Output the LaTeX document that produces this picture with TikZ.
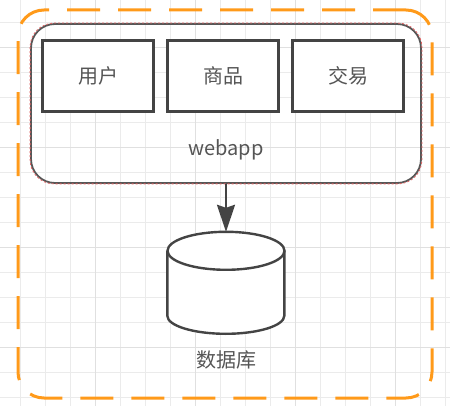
\documentclass[tikz,border=0pt]{standalone}
\usepackage{fontspec}
\setmainfont{Noto Sans CJK SC}
\usetikzlibrary{positioning,arrows.meta}

\definecolor{gridgray}{HTML}{EBEBEB}
\definecolor{gridgray2}{HTML}{E0E0E0}
\definecolor{sysorange}{HTML}{FF9A1A}
\definecolor{boxgray}{HTML}{444444}
\definecolor{txtgray}{HTML}{555555}
\definecolor{appred}{HTML}{E06060}

\begin{document}
\begin{tikzpicture}[x=1pt,y=-1pt,node distance=125pt,on grid,
    module/.style={draw=boxgray,line width=2.4pt,fill=white,minimum width=111pt,minimum height=71pt,
        font=\fontsize{20}{22}\selectfont,text=txtgray},
    container/.style={draw=boxgray!90,line width=1.8pt,rounded corners=24pt,minimum width=390pt,minimum height=159pt},
    outer/.style={draw=sysorange,line width=3pt,dash pattern=on 33pt off 18pt,rounded corners=26pt,
        minimum width=414pt,minimum height=388pt},
    caption/.style={font=\fontsize{20}{22}\selectfont,text=txtgray}]
        \useasboundingbox (0,0) rectangle (450,406);
        % background grid
        \foreach \gx in {20,45,...,445}
            \draw[gridgray,line width=0.8pt] (\gx,0) -- (\gx,406);
        \foreach \gy in {22,47,...,406}
            \draw[gridgray,line width=0.8pt] (0,\gy) -- (450,\gy);
        \foreach \gx in {95,195,295,395}
            \draw[gridgray2,line width=0.8pt] (\gx,0) -- (\gx,406);
        \foreach \gy in {47,147,247,347}
            \draw[gridgray2,line width=0.8pt] (0,\gy) -- (450,\gy);

        \node[outer] (sys) at (225,204) {};
        \node[container] (webapp) at (226,103.5) {};
        \draw[appred,line width=0.8pt,dash pattern=on 2pt off 2pt,rounded corners=24pt]
            (webapp.north west) rectangle (webapp.south east);

        \node[module] (user) at (98,76) {用户};
        \node[module] (goods) [right=of user] {商品};
        \node[module] (trade) [right=of goods] {交易};
        \node[caption] (applabel) at (226,150) {webapp};

        % database cylinder
        \node[minimum width=117pt,minimum height=103pt] (db) at (226,283.5) {};
        \fill[white] (db.north west) ++(0,19) -- ++(0,65)
            arc[start angle=180,end angle=360,x radius=58.5pt,y radius=18pt] -- ++(0,-65)
            arc[start angle=0,end angle=180,x radius=58.5pt,y radius=19pt] -- cycle;
        \draw[boxgray,line width=2.4pt] (db.north west) ++(0,19) -- ++(0,65)
            arc[start angle=180,end angle=360,x radius=58.5pt,y radius=18pt] -- ++(0,-65);
        \draw[boxgray,line width=2.4pt] (db.north) ++(0,19) ellipse[x radius=58.5pt,y radius=19pt];
        \node[caption] (dblabel) [below=76pt of db] {数据库};

        \draw[-{Stealth[length=27pt,width=18pt,inset=3pt]},boxgray,line width=2.4pt] (webapp.south) -- (db.north);
\end{tikzpicture}
\end{document}
